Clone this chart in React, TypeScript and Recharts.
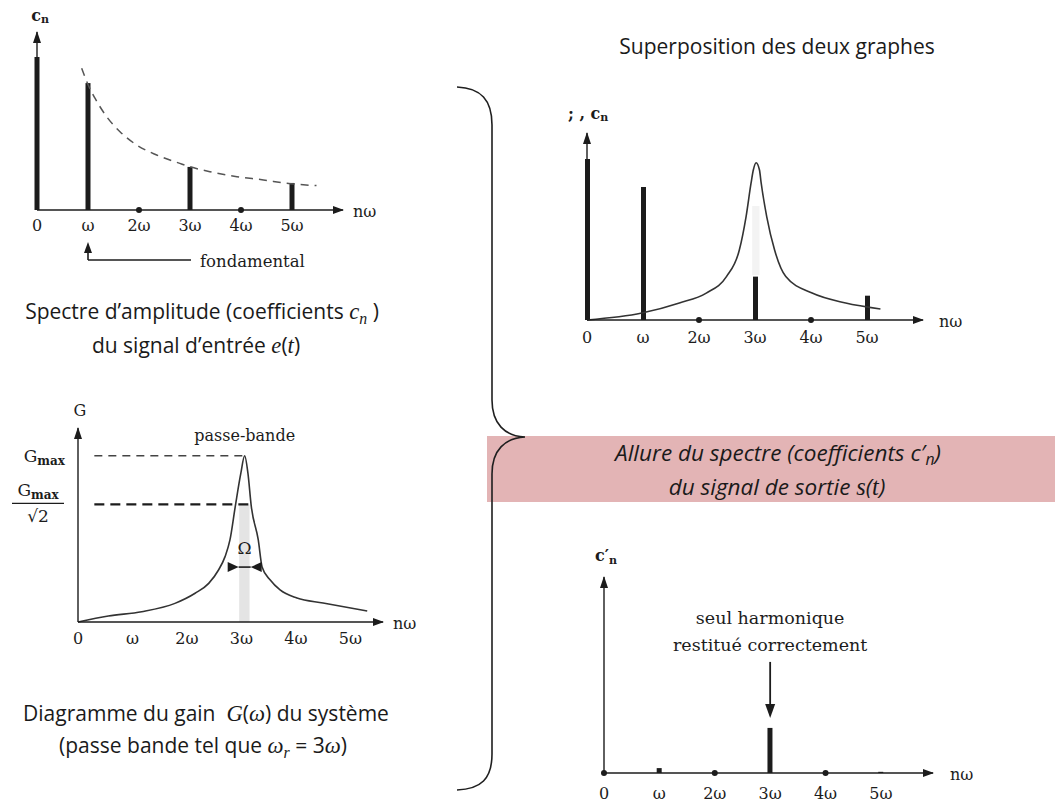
import React from "react";
import {
  ComposedChart,
  Bar,
  Line,
  Scatter,
  XAxis,
  YAxis,
  ReferenceArea,
  ReferenceLine,
  ReferenceDot,
} from "recharts";

// ---------- data ----------
const harmonics = [0, 1, 2, 3, 4, 5];
const harmonicLabels = ["0", "ω", "2ω", "3ω", "4ω", "5ω"];

// input spectrum c_n
const inputSpectrum = [8.6, 7.13, null, 2.42, null, 1.52];
const inputZeros = [2, 4];
const envelopeX = [0.876, 1.0, 1.137, 1.367, 1.627, 1.955, 2.347, 2.8, 3.0, 3.39, 3.92, 4.44, 4.9, 5.48];
const envelopeY = [7.96, 7.05, 6.28, 5.24, 4.4, 3.65, 3.09, 2.62, 2.43, 2.15, 1.87, 1.69, 1.5, 1.37];

// gain G(ω)
const gainX = [0, 0.557, 1.17, 1.78, 2.15, 2.4, 2.58, 2.7, 2.79, 2.89, 2.99, 3.06, 3.12, 3.18, 3.31, 3.38, 3.53, 3.71, 4.02, 4.5, 5.31];
const gainY = [0, 0.31, 0.53, 0.96, 1.48, 1.99, 2.68, 3.37, 4.23, 6.0, 7.67, 8.57, 7.67, 6.0, 4.23, 2.84, 2.16, 1.65, 1.24, 0.98, 0.57];
const gainMax = 8.57;
const gainCut = 6.06;
const passBand = [2.96, 3.15];

// superposition
const overlaySpectrum = [8.61, 7.11, null, 2.32, null, 1.3];
const overlayZeros = [2, 4];
const overlayGainX = [0, 0.98, 1.65, 2.13, 2.49, 2.72, 2.84, 2.93, 2.97, 3.02, 3.08, 3.11, 3.21, 3.35, 3.55, 4.02, 4.62, 5.24];
const overlayGainY = [0, 0.37, 0.91, 1.44, 2.32, 3.74, 5.52, 7.33, 8.02, 8.41, 8.02, 7.33, 5.52, 3.74, 2.32, 1.44, 0.91, 0.59];

// output spectrum c'_n
const outputSpectrum = [null, 0.25, null, 2.3, null, 0.06];
const outputZeros = [0, 2, 4];

// ---------- derived tables ----------
const inputData = harmonics.map((x, i) => ({ x, c: inputSpectrum[i] }));
const envelopeData = envelopeX.map((x, i) => ({ x, v: envelopeY[i] }));
const gainData = gainX.map((x, i) => ({ x, v: gainY[i] }));
const overlayData = harmonics.map((x, i) => ({ x, c: overlaySpectrum[i] }));
const overlayGainData = overlayGainX.map((x, i) => ({ x, v: overlayGainY[i] }));
const outputData = harmonics.map((x, i) => ({ x, c: outputSpectrum[i] }));
const toDots = (arr: number[]) => arr.map((x) => ({ x, v: 0 }));

// ---------- styles ----------
const INK = "#1c1c1c";
const SERIF = "'DejaVu Serif', 'Liberation Serif', serif";
const SANS = "'Open Sans', Lato, sans-serif";
const MATH = "'Liberation Serif', serif";
const XH = 20;
const YW = 1;

type Box = { left: number; top: number; width: number; height: number };
type Plot = { L: number; T: number; R: number; B: number };
const marginFor = (b: Box, p: Plot) => ({
  top: p.T - b.top,
  left: p.L - b.left - YW,
  right: b.left + b.width - p.R,
  bottom: b.top + b.height - p.B - XH,
});

function XTick(props: any) {
  const { x, y, payload, off = 15 } = props;
  return (
    <text x={x} y={y + off} textAnchor="middle" dominantBaseline="central" fontFamily={SERIF} fontSize={16} fill={INK}>
      {harmonicLabels[Math.round(payload.value)]}
    </text>
  );
}

function XArrow(props: any) {
  const vb = props.viewBox || {};
  const ex = vb.x + vb.width;
  const y = vb.y;
  const gap = props.gap ?? 10;
  return (
    <g>
      <path d={`M${ex + 1},${y} L${ex - 10},${y - 4} L${ex - 10},${y + 4} Z`} fill={INK} />
      <text x={ex + gap} y={y + 1} dominantBaseline="central" fontFamily={SERIF} fontSize={16} fill={INK}>
        nω
      </text>
    </g>
  );
}

function YArrow(props: any) {
  const vb = props.viewBox || {};
  const x = vb.x + (vb.width || 0);
  const y = vb.y;
  return (
    <g>
      <path d={`M${x},${y - 1} L${x - 4},${y + 11} L${x + 4},${y + 11} Z`} fill={INK} />
      <text
        x={x + (props.dx ?? 0)}
        y={y + (props.dy ?? -17)}
        textAnchor={props.anchor ?? "middle"}
        dominantBaseline="central"
        fontFamily={SERIF}
        fontSize={16}
        fontWeight={props.bold === false ? "normal" : "bold"}
        fill={INK}
      >
        {props.caption}
      </text>
    </g>
  );
}

function GainTick(props: any) {
  const { x, y, payload } = props;
  if (Math.abs(payload.value - gainMax) < 1e-6) {
    return (
      <text x={x - 13} y={y + 6} textAnchor="end" fontFamily={SERIF} fontSize={17} fill={INK}>
        G<tspan fontSize={12} dy={3} fontWeight="bold">max</tspan>
      </text>
    );
  }
  const cx = x - 40;
  return (
    <g>
      <text x={cx} y={y - 8} textAnchor="middle" fontFamily={SERIF} fontSize={17} fill={INK}>
        G<tspan fontSize={12} dy={3} fontWeight="bold">max</tspan>
      </text>
      <line x1={cx - 26} x2={cx + 26} y1={y - 1} y2={y - 1} stroke={INK} strokeWidth={1.2} />
      <text x={cx} y={y + 18} textAnchor="middle" fontFamily={SERIF} fontSize={17} fill={INK}>
        √2
      </text>
    </g>
  );
}

const dotShape = (p: any) => <circle cx={p.cx} cy={p.cy} r={3} fill={INK} />;

const axisLine = { stroke: INK, strokeWidth: 1.4 };

function xAxisEl(xMax: number, off: number, gap: number) {
  return (
    <XAxis
      type="number"
      dataKey="x"
      domain={[0, xMax]}
      ticks={harmonics}
      interval={0}
      height={XH}
      tickSize={0}
      tickMargin={0}
      tickLine={false}
      axisLine={axisLine}
      tick={<XTick off={off} />}
      label={<XArrow gap={gap} />}
    />
  );
}

function curveAxisEl(xMax: number) {
  return <XAxis xAxisId="curve" type="number" dataKey="x" domain={[0, xMax]} hide />;
}

// ---------- layout boxes ----------
const box1: Box = { left: 0, top: 0, width: 400, height: 275 };
const plot1: Plot = { L: 37, T: 32, R: 343, B: 210 };
const box2: Box = { left: 0, top: 395, width: 440, height: 260 };
const plot2: Plot = { L: 78, T: 428, R: 383, B: 622 };
const box3: Box = { left: 540, top: 95, width: 440, height: 260 };
const plot3: Plot = { L: 587, T: 133, R: 923, B: 320 };
const box4: Box = { left: 540, top: 540, width: 440, height: 264 };
const plot4: Plot = { L: 604, T: 577, R: 933, B: 773 };

const place = (b: Box): React.CSSProperties => ({
  position: "absolute",
  left: b.left,
  top: b.top,
  width: b.width,
  height: b.height,
});

const Sub = ({ children }: { children: React.ReactNode }) => (
  <span style={{ fontSize: "0.7em", position: "relative", top: "0.3em" }}>{children}</span>
);
const M = ({ children }: { children: React.ReactNode }) => (
  <span style={{ fontFamily: MATH, fontStyle: "italic", fontSize: "1.08em" }}>{children}</span>
);

const caption = (cx: number, cy: number, size = 21, italic = false): React.CSSProperties => ({
  position: "absolute",
  left: cx - 300,
  width: 600,
  top: cy - size * 0.6,
  height: size * 1.2,
  lineHeight: `${size * 1.2}px`,
  textAlign: "center",
  fontFamily: SANS,
  fontSize: size,
  fontStyle: italic ? "italic" : "normal",
  color: "#1a1a1a",
  whiteSpace: "nowrap",
});

const yAxisBase = {
  type: "number" as const,
  domain: [0, 10] as [number, number],
  width: YW,
  tickLine: false,
  axisLine: axisLine,
};

export default function App() {
  return (
    <div
      style={{
        position: "absolute",
        left: 0,
        top: 0,
        width: 1055,
        height: 804,
        overflow: "hidden",
        background: "#fff",
        fontFamily: SANS,
      }}
    >
      {/* Chart 1: input spectrum */}
      <div style={place(box1)}>
        <ComposedChart width={box1.width} height={box1.height} data={inputData} margin={marginFor(box1, plot1)}>
          {xAxisEl(6, 15, 10)}
          {curveAxisEl(6)}
          <YAxis
            {...yAxisBase}
            tick={false}
            label={<YArrow dx={3} dy={-17} caption={<>c<tspan fontSize={11} dy={4}>n</tspan></>} />}
          />
          <Line
            xAxisId="curve"
            data={envelopeData}
            dataKey="v"
            type="monotone"
            dot={false}
            stroke="#555"
            strokeWidth={1.5}
            strokeDasharray="8 6"
            isAnimationActive={false}
          />
          <Bar dataKey="c" barSize={5} fill={INK} isAnimationActive={false} />
          <Scatter data={toDots(inputZeros)} dataKey="v" shape={dotShape} isAnimationActive={false} />
          <ReferenceDot
            x={1}
            y={0}
            ifOverflow="visible"
            shape={(p: any) => (
              <g>
                <path d={`M${p.cx},${p.cy + 50} L${p.cx},${p.cy + 40}`} stroke={INK} strokeWidth={1.6} />
                <path d={`M${p.cx},${p.cy + 32} L${p.cx - 4},${p.cy + 43} L${p.cx + 4},${p.cy + 43} Z`} fill={INK} />
                <path d={`M${p.cx},${p.cy + 50} L${p.cx + 103},${p.cy + 50}`} stroke={INK} strokeWidth={1.6} />
                <text x={p.cx + 112} y={p.cy + 51} dominantBaseline="central" fontFamily={SERIF} fontSize={16.5} fill={INK}>
                  fondamental
                </text>
              </g>
            )}
          />
        </ComposedChart>
      </div>

      {/* Chart 2: gain */}
      <div style={place(box2)}>
        <ComposedChart width={box2.width} height={box2.height} data={gainData} margin={marginFor(box2, plot2)}>
          <ReferenceArea x1={passBand[0]} x2={passBand[1]} y1={0} y2={gainCut} fill="#e4e4e4" fillOpacity={1} stroke="none" />
          {xAxisEl(5.6, 16, 10)}
          <YAxis
            {...yAxisBase}
            ticks={[gainCut, gainMax]}
            interval={0}
            tickSize={0}
            tickMargin={0}
            tick={<GainTick />}
            label={<YArrow dx={2} dy={-18} bold={false} caption="G" />}
          />
          <ReferenceLine
            segment={[{ x: 0.3, y: gainMax }, { x: 3.06, y: gainMax }]}
            stroke="#444"
            strokeWidth={1.4}
            strokeDasharray="8 6"
            ifOverflow="visible"
          />
          <ReferenceLine
            segment={[{ x: 0.3, y: gainCut }, { x: 3.2, y: gainCut }]}
            stroke={INK}
            strokeWidth={2.2}
            strokeDasharray="10 6"
            ifOverflow="visible"
          />
          <Line dataKey="v" type="monotone" dot={false} stroke="#333" strokeWidth={1.6} isAnimationActive={false} />
          <ReferenceDot
            x={3.06}
            y={gainMax}
            ifOverflow="visible"
            shape={(p: any) => (
              <text x={p.cx} y={p.cy - 20} textAnchor="middle" dominantBaseline="central" fontFamily={SERIF} fontSize={16} fill={INK}>
                passe-bande
              </text>
            )}
          />
          <ReferenceDot
            x={3.06}
            y={3.81}
            ifOverflow="visible"
            shape={(p: any) => (
              <g>
                <text x={p.cx} y={p.cy} textAnchor="middle" dominantBaseline="central" fontFamily={SERIF} fontSize={17} fill={INK}>
                  Ω
                </text>
                <path d={`M${p.cx - 17},${p.cy + 14} L${p.cx - 6},${p.cy + 19} L${p.cx - 17},${p.cy + 24} Z`} fill={INK} />
                <path d={`M${p.cx + 17},${p.cy + 14} L${p.cx + 6},${p.cy + 19} L${p.cx + 17},${p.cy + 24} Z`} fill={INK} />
                <path d={`M${p.cx - 6},${p.cy + 19} L${p.cx + 6},${p.cy + 19}`} stroke={INK} strokeWidth={1.6} />
              </g>
            )}
          />
        </ComposedChart>
      </div>

      {/* Chart 3: superposition */}
      <div style={place(box3)}>
        <ComposedChart width={box3.width} height={box3.height} data={overlayData} margin={marginFor(box3, plot3)}>
          <ReferenceArea x1={2.95} x2={3.08} y1={2.4} y2={6.1} fill="#f3f3f3" fillOpacity={1} stroke="none" />
          {xAxisEl(6, 17, 16)}
          {curveAxisEl(6)}
          <YAxis
            {...yAxisBase}
            tick={false}
            label={
              <YArrow
                dx={-19}
                dy={-20}
                anchor="start"
                caption={<>; , c<tspan fontSize={11} dy={4}>n</tspan></>}
              />
            }
          />
          <Line
            xAxisId="curve"
            data={overlayGainData}
            dataKey="v"
            type="monotone"
            dot={false}
            stroke="#333"
            strokeWidth={1.6}
            isAnimationActive={false}
          />
          <Bar dataKey="c" barSize={5} fill={INK} isAnimationActive={false} />
          <Scatter data={toDots(overlayZeros)} dataKey="v" shape={dotShape} isAnimationActive={false} />
        </ComposedChart>
      </div>

      {/* Chart 4: output spectrum */}
      <div style={place(box4)}>
        <ComposedChart width={box4.width} height={box4.height} data={outputData} margin={marginFor(box4, plot4)}>
          {xAxisEl(5.94, 20, 17)}
          <YAxis
            {...yAxisBase}
            tick={false}
            label={
              <YArrow
                dx={2}
                dy={-22}
                caption={<>c′<tspan fontSize={11} dy={5}>n</tspan></>}
              />
            }
          />
          <Bar dataKey="c" barSize={5} fill={INK} isAnimationActive={false} />
          <Scatter data={toDots(outputZeros)} dataKey="v" shape={dotShape} isAnimationActive={false} />
          <ReferenceDot
            x={3}
            y={outputSpectrum[3] as number}
            ifOverflow="visible"
            shape={(p: any) => (
              <g>
                <text x={p.cx} y={p.cy - 110} textAnchor="middle" dominantBaseline="central" fontFamily={SERIF} fontSize={17.5} fill={INK}>
                  seul harmonique
                </text>
                <text x={p.cx} y={p.cy - 83} textAnchor="middle" dominantBaseline="central" fontFamily={SERIF} fontSize={17.5} fill={INK}>
                  restitué correctement
                </text>
                <path d={`M${p.cx},${p.cy - 66} L${p.cx},${p.cy - 20}`} stroke={INK} strokeWidth={1.8} />
                <path d={`M${p.cx},${p.cy - 10} L${p.cx - 5},${p.cy - 24} L${p.cx + 5},${p.cy - 24} Z`} fill={INK} />
              </g>
            )}
          />
        </ComposedChart>
      </div>

      {/* captions */}
      <div style={caption(202, 312)}>
        Spectre d’amplitude (coefficients <M>c<Sub>n</Sub></M> )
      </div>
      <div style={caption(196, 346)}>
        du signal d’entrée <M>e</M>(<M>t</M>)
      </div>
      <div style={caption(206, 714)}>
        Diagramme du gain&nbsp; <M>G</M>(<M>ω</M>) du système
      </div>
      <div style={caption(203, 746)}>
        (passe bande tel que <M>ω<Sub>r</Sub></M> = 3<M>ω</M>)
      </div>
      <div style={caption(777, 47)}>Superposition des deux graphes</div>

      {/* pink band */}
      <div
        style={{
          position: "absolute",
          left: 487,
          top: 436,
          width: 568,
          height: 66,
          background: "#e3b4b5",
        }}
      />
      <div style={caption(778, 452, 22.5, true)}>
        Allure du spectre (coefficients c′<Sub>n</Sub>)
      </div>
      <div style={caption(777, 486, 22.5, true)}>
        du signal de sortie <M>s</M>(<M>t</M>)
      </div>

      {/* brace */}
      <svg style={{ position: "absolute", left: 0, top: 0 }} width={1055} height={804}>
        <path
          d="M457,87 C481,88 492,100 492,125 L492,400 C492,424 505,436 525,437 C505,438 492,450 492,474 L492,754 C492,779 481,789 457,790"
          fill="none"
          stroke="#1f1f1f"
          strokeWidth={1.6}
        />
      </svg>
    </div>
  );
}
